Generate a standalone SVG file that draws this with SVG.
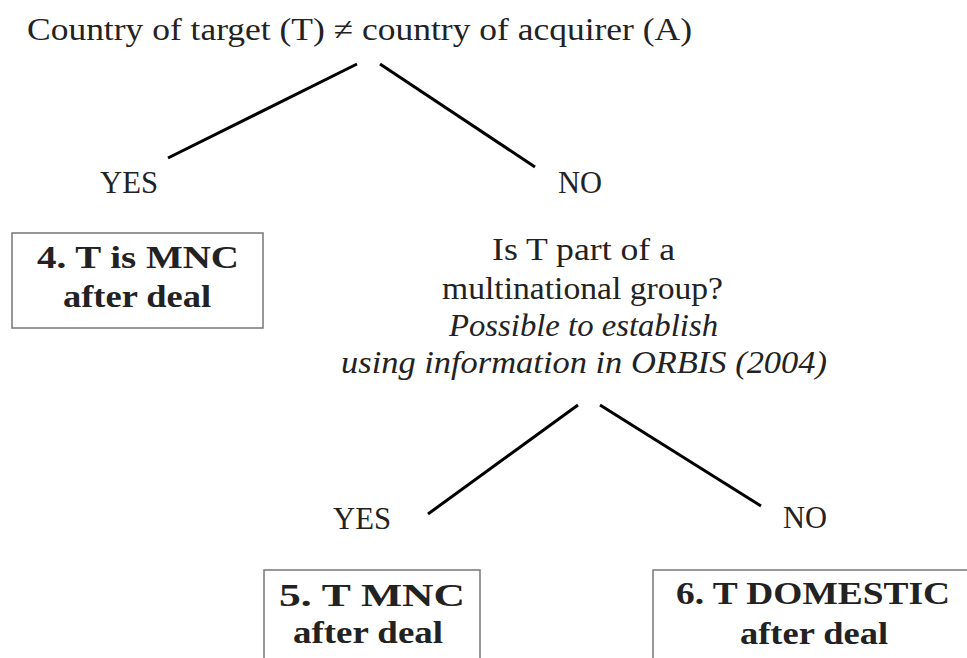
<svg xmlns="http://www.w3.org/2000/svg" width="967" height="658" viewBox="0 0 967 658" font-family="Liberation Serif, serif">
<style>
text{font-size:32px;fill:#222;text-anchor:middle}
.b{font-weight:bold}
.i{font-style:italic}
.box{fill:none;stroke:#777;stroke-width:1.5}
.ln{stroke:#000;stroke-width:3;stroke-linecap:butt;fill:none}
</style>
<rect width="967" height="658" fill="#fff"/>
<g id="root"><text x="359.5" y="40" textLength="665" lengthAdjust="spacingAndGlyphs">Country of target (T) ≠ country of acquirer (A)</text></g>
<g id="yes1"><text x="129" y="193" textLength="58" lengthAdjust="spacingAndGlyphs">YES</text></g>
<g id="no1"><text x="580" y="193" textLength="44" lengthAdjust="spacingAndGlyphs">NO</text></g>
<g id="n4"><rect class="box" x="12" y="233" width="251" height="95"/><text class="b" x="138" y="268" textLength="202" lengthAdjust="spacingAndGlyphs">4. T is MNC</text><text class="b" x="137" y="307" textLength="148" lengthAdjust="spacingAndGlyphs">after deal</text></g>
<g id="q2"><text x="583.5" y="260" textLength="183" lengthAdjust="spacingAndGlyphs">Is T part of a</text><text x="582.5" y="299" textLength="281" lengthAdjust="spacingAndGlyphs">multinational group?</text><text class="i" x="583.5" y="336" textLength="269" lengthAdjust="spacingAndGlyphs">Possible to establish</text><text class="i" x="584" y="373" textLength="486" lengthAdjust="spacingAndGlyphs">using information in ORBIS (2004)</text></g>
<g id="yes2"><text x="362" y="529" textLength="58" lengthAdjust="spacingAndGlyphs">YES</text></g>
<g id="no2"><text x="805" y="528" textLength="44" lengthAdjust="spacingAndGlyphs">NO</text></g>
<g id="n5"><path class="box" d="M264,670 V570 H480 V670"/><text class="b" x="372" y="606" textLength="186" lengthAdjust="spacingAndGlyphs">5. T MNC</text><text class="b" x="368" y="643" textLength="150" lengthAdjust="spacingAndGlyphs">after deal</text></g>
<g id="n6"><path class="box" d="M653,670 V570 H980"/><text class="b" x="813" y="604" textLength="274" lengthAdjust="spacingAndGlyphs">6. T DOMESTIC</text><text class="b" x="814" y="644" textLength="148" lengthAdjust="spacingAndGlyphs">after deal</text></g>
<g id="connectors">
<line class="ln" x1="168" y1="158" x2="357" y2="64"/>
<line class="ln" x1="380" y1="64" x2="535" y2="167"/>
<line class="ln" x1="428" y1="514" x2="578" y2="405"/>
<line class="ln" x1="600" y1="405" x2="761" y2="506"/>
</g>
</svg>
